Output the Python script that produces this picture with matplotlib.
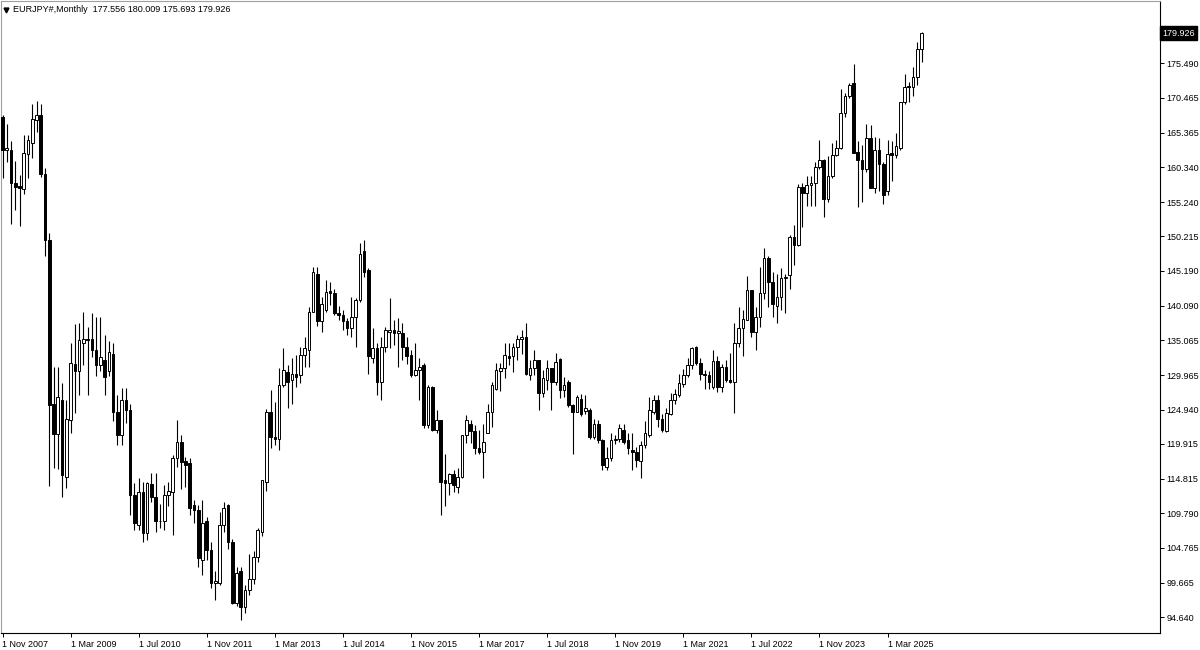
#!/usr/bin/env python3
"""
EURJPY# monthly candlestick chart, MetaTrader style (black on white).
"""

import matplotlib
matplotlib.use("Agg")
import matplotlib.pyplot as plt
import matplotlib.transforms as mtransforms
import numpy as np
import pandas as pd

symbol = "EURJPY#"
timeframe = "Monthly"
first_month = "2007-11-01"

# one value per month, Nov 2007 .. Nov 2025
opens = [
    167.6, 162.8,
    162.9, 158.0, 157.6, 157.1, 162.3, 163.9, 167.2, 167.9, 159.4, 149.7, 125.8, 121.4,
    126.4, 115.1, 123.4, 131.6, 130.5, 134.6, 135.3, 135.3, 133.6, 131.4, 132.2, 130.6,
    133.1, 124.6, 121.2, 126.3, 124.9, 112.5, 108.1, 112.9, 106.9, 114.0, 112.2, 108.6,
    108.6, 112.5, 112.9, 117.8, 120.2, 117.4, 117.1, 111.0, 110.3, 103.0, 108.6, 104.4,
    99.6, 99.6, 108.1, 111.0, 105.6, 96.7, 101.3, 96.1, 98.6, 100.2, 103.4, 107.0,
    114.4, 124.6, 121.0, 120.7, 128.5, 130.4, 129.2, 130.2, 130.0, 132.9, 133.6, 139.2,
    144.8, 137.8, 139.5, 142.2, 141.9, 139.0, 138.7, 137.8, 136.8, 138.5, 141.0, 148.1,
    145.3, 132.4, 133.9, 129.0, 134.1, 136.3, 136.5, 136.1, 136.1, 134.1, 132.9, 130.0,
    130.7, 131.4, 122.7, 128.3, 122.0, 123.4, 114.7, 114.2, 115.5, 113.6, 115.1, 121.2,
    122.9, 121.8, 119.3, 118.8, 121.5, 124.6, 128.0, 130.5, 131.0, 132.8, 132.7, 134.1,
    135.2, 135.6, 130.0, 131.0, 132.2, 127.3, 129.3, 131.0, 129.0, 132.3, 127.8, 129.0,
    125.6, 124.6, 126.5, 124.7, 124.9, 121.0, 122.9, 120.5, 116.6, 117.8, 120.5, 120.7,
    121.9, 120.5, 119.0, 118.8, 117.4, 119.8, 121.2, 124.6, 126.4, 123.6, 121.8, 124.3,
    126.3, 127.1, 128.7, 130.0, 131.4, 134.1, 131.8, 130.2, 130.0, 128.3, 132.1, 128.3,
    131.1, 129.3, 129.0, 134.6, 136.8, 138.0, 142.4, 136.3, 138.5, 141.9, 147.0, 143.6,
    140.0, 141.4, 144.1, 144.6, 150.2, 149.0, 157.5, 156.5, 157.8, 158.0, 160.4, 161.4,
    155.7, 159.0, 162.1, 163.2, 168.2, 170.7, 172.6, 162.5, 161.4, 160.0, 164.6, 157.3,
    162.9, 160.8, 156.8, 162.4, 162.1, 163.2, 169.8, 172.2, 172.1, 173.5, 177.556,
]
highs = [
    168.0, 166.7,
    164.1, 161.2, 159.2, 165.1, 165.0, 169.6, 170.0, 169.6, 160.2, 150.7, 131.2, 131.2,
    128.8, 126.3, 134.7, 137.5, 137.6, 139.2, 137.0, 139.0, 138.5, 138.5, 135.8, 134.9,
    134.7, 127.1, 128.1, 128.1, 125.8, 114.2, 114.9, 114.4, 114.4, 115.7, 115.6, 111.2,
    113.9, 114.4, 118.3, 123.4, 121.2, 118.0, 117.8, 111.7, 111.0, 111.7, 109.3, 105.6,
    101.3, 110.0, 111.5, 111.2, 106.0, 102.0, 102.0, 99.3, 103.9, 104.3, 107.6, 114.7,
    125.0, 127.8, 126.1, 131.0, 133.9, 131.4, 132.5, 132.9, 134.1, 135.6, 139.9, 145.8,
    145.8, 141.4, 143.9, 143.6, 142.6, 140.0, 139.5, 138.3, 141.4, 141.3, 149.2, 149.7,
    145.6, 136.8, 134.6, 135.6, 137.0, 141.2, 138.0, 138.3, 137.6, 135.6, 133.6, 134.6,
    132.4, 131.7, 128.5, 128.4, 124.9, 123.4, 118.5, 115.6, 116.1, 116.4, 121.2, 124.1,
    123.4, 122.7, 122.0, 122.9, 125.8, 129.0, 131.7, 131.7, 134.6, 134.6, 134.6, 135.8,
    136.5, 137.6, 132.2, 133.6, 132.2, 130.7, 132.2, 131.0, 133.2, 132.4, 129.7, 129.3,
    125.8, 127.1, 127.2, 127.1, 125.1, 123.6, 123.4, 120.7, 119.5, 121.5, 121.2, 122.9,
    122.9, 121.5, 121.5, 119.5, 120.3, 123.2, 126.8, 127.1, 127.1, 124.3, 125.1, 127.3,
    128.0, 130.2, 130.9, 132.4, 134.1, 134.2, 132.4, 130.7, 130.6, 133.6, 132.7, 131.6,
    132.2, 133.2, 137.6, 139.9, 139.5, 144.4, 142.4, 139.9, 145.8, 148.5, 147.3, 145.0,
    144.8, 145.6, 144.8, 150.4, 151.9, 157.9, 158.0, 159.0, 159.0, 161.1, 164.3, 161.6,
    161.9, 163.8, 164.3, 171.8, 171.1, 172.6, 175.4, 164.1, 163.6, 166.7, 166.5, 164.8,
    164.6, 161.1, 164.3, 164.1, 165.4, 169.9, 174.0, 172.8, 174.9, 178.6, 180.009,
]
lows = [
    158.7, 161.1,
    152.1, 154.1, 151.7, 156.4, 158.7, 161.7, 165.5, 158.9, 147.3, 113.7, 116.4, 116.3,
    112.2, 113.5, 121.5, 124.4, 127.1, 131.4, 127.1, 132.6, 129.9, 130.5, 127.1, 129.9,
    123.2, 119.8, 119.8, 123.0, 109.5, 107.3, 107.3, 105.6, 105.9, 111.5, 107.1, 107.6,
    107.3, 110.8, 106.6, 116.6, 113.4, 113.6, 109.5, 108.3, 102.0, 100.8, 103.0, 98.9,
    97.1, 99.3, 107.1, 104.6, 96.5, 96.2, 94.2, 95.2, 97.9, 99.4, 102.7, 106.4,
    113.0, 119.3, 119.8, 119.0, 128.3, 125.1, 125.8, 128.3, 128.8, 131.2, 131.2, 139.2,
    137.2, 136.3, 139.2, 140.2, 138.7, 138.0, 136.5, 135.8, 135.6, 134.1, 140.7, 144.3,
    130.2, 131.7, 127.1, 126.3, 133.4, 133.9, 134.4, 131.2, 132.2, 131.6, 129.7, 129.8,
    126.3, 122.3, 122.3, 121.8, 121.5, 109.5, 110.8, 112.5, 112.9, 112.7, 114.9, 120.0,
    120.0, 118.5, 118.5, 114.9, 121.5, 122.4, 127.8, 127.6, 129.5, 131.4, 130.4, 132.2,
    133.1, 130.0, 129.3, 130.0, 124.9, 126.8, 127.8, 124.9, 128.5, 126.6, 126.8, 125.3,
    118.5, 124.6, 124.0, 124.3, 120.7, 120.6, 120.0, 116.1, 116.1, 117.4, 119.9, 120.2,
    119.9, 118.5, 116.1, 116.6, 114.9, 119.3, 121.0, 124.3, 122.4, 121.6, 121.6, 124.1,
    125.8, 126.8, 128.3, 129.7, 130.8, 131.4, 129.3, 128.0, 128.0, 128.0, 127.5, 127.5,
    129.0, 128.8, 124.4, 134.1, 132.7, 138.0, 135.6, 133.6, 137.0, 141.1, 139.9, 138.5,
    137.6, 139.5, 139.0, 142.6, 146.1, 148.8, 151.6, 154.6, 154.6, 154.6, 160.0, 153.1,
    155.3, 158.7, 161.9, 163.0, 167.7, 170.4, 162.4, 154.5, 155.3, 159.7, 157.3, 156.5,
    156.8, 155.0, 156.3, 158.3, 161.7, 162.9, 169.6, 169.9, 170.8, 172.3, 175.693,
]
closes = [
    162.8, 163.1,
    158.0, 157.5, 157.3, 162.4, 164.3, 167.3, 167.9, 159.4, 149.7, 125.6, 121.4, 126.8,
    115.4, 123.6, 131.7, 130.5, 135.1, 135.3, 135.1, 133.6, 131.4, 132.6, 129.7, 133.4,
    124.6, 121.2, 126.4, 124.9, 112.5, 108.3, 112.9, 106.9, 114.2, 112.2, 108.6, 108.7,
    112.5, 113.0, 117.8, 120.2, 117.3, 116.8, 110.5, 110.3, 103.2, 108.3, 104.4, 99.6,
    99.9, 108.1, 110.5, 105.6, 96.7, 101.1, 96.1, 98.6, 100.2, 103.4, 107.3, 114.6,
    124.6, 121.0, 120.7, 128.5, 130.7, 129.0, 130.2, 129.7, 132.9, 133.9, 139.2, 145.1,
    137.8, 140.4, 142.1, 141.9, 139.0, 138.7, 137.8, 136.8, 138.5, 141.0, 147.7, 145.1,
    132.7, 133.9, 129.0, 134.1, 136.5, 136.6, 136.1, 136.4, 134.1, 132.7, 130.0, 130.7,
    131.2, 122.7, 128.3, 122.0, 123.4, 114.4, 114.2, 115.5, 113.9, 115.1, 121.2, 123.4,
    121.8, 119.3, 118.8, 120.2, 124.6, 128.5, 130.7, 131.0, 132.9, 132.5, 134.1, 135.2,
    135.6, 130.1, 131.0, 132.2, 127.3, 129.5, 131.0, 129.0, 131.9, 127.8, 128.5, 125.6,
    124.6, 126.8, 124.3, 125.1, 121.0, 122.9, 120.5, 116.8, 117.8, 120.5, 120.6, 122.2,
    120.2, 119.3, 118.8, 117.6, 119.8, 121.5, 124.9, 126.4, 123.6, 121.9, 124.5, 126.3,
    127.2, 128.8, 130.0, 131.4, 134.0, 131.7, 130.2, 130.0, 129.0, 132.1, 128.3, 131.1,
    129.3, 129.0, 134.6, 136.8, 138.2, 142.4, 136.3, 138.5, 141.9, 147.0, 143.6, 140.4,
    141.4, 144.1, 144.3, 150.2, 149.0, 157.5, 156.5, 157.8, 158.0, 160.4, 161.4, 155.7,
    159.0, 162.1, 163.2, 168.2, 170.7, 172.4, 162.4, 161.4, 160.0, 164.6, 157.3, 162.9,
    160.8, 156.3, 162.3, 162.1, 163.5, 169.8, 172.1, 172.0, 173.5, 177.6, 179.926,
]

price_ticks = [94.640, 99.665, 104.765, 109.790, 114.815, 119.915, 124.940, 129.965,
               135.065, 140.090, 145.190, 150.215, 155.240, 160.340, 165.365, 170.465,
               175.490, 180.515]
date_ticks = ["1 Nov 2007", "1 Mar 2009", "1 Jul 2010", "1 Nov 2011", "1 Mar 2013",
              "1 Jul 2014", "1 Nov 2015", "1 Mar 2017", "1 Jul 2018", "1 Nov 2019",
              "1 Mar 2021", "1 Jul 2022", "1 Nov 2023", "1 Mar 2025"]


def main():
    o = np.array(opens)
    h = np.array(highs)
    l = np.array(lows)
    c = np.array(closes)
    months = pd.date_range(first_month, periods=len(c), freq="MS")
    x = np.arange(len(c))

    W, H = 1200, 650
    fig = plt.figure(figsize=(W / 100, H / 100), dpi=100)
    fig.patch.set_facecolor("white")
    # chart area in pixels: left 1, right 1160, top 1, bottom 633
    ax = fig.add_axes([1 / W, (H - 633) / H, 1159 / W, 632 / H])
    ax.set_facecolor("white")

    px_per_bar = 4.255
    ax.set_xlim(-1.5 / px_per_bar, 1157.5 / px_per_bar)
    px_per_unit = 6.847
    ax.set_ylim(94.64 - 16 / px_per_unit, 94.64 + 616 / px_per_unit)

    # wicks
    ax.vlines(x, l, h, color="black", linewidth=0.8, zorder=2)

    # bodies
    up = c >= o
    bottom = np.minimum(o, c)
    height = np.maximum(np.abs(c - o), 0.06)
    body_w = 0.62
    ax.bar(x[up], height[up], bottom=bottom[up], width=body_w,
           facecolor="white", edgecolor="black", linewidth=0.7, zorder=3)
    ax.bar(x[~up], height[~up], bottom=bottom[~up], width=body_w,
           facecolor="black", edgecolor="black", linewidth=0.7, zorder=3)

    # price axis on the right
    ax.yaxis.tick_right()
    ax.set_yticks(price_ticks)
    ax.set_yticklabels([f"{v:.3f}" for v in price_ticks],
                       fontsize=6.5, family="Liberation Sans")
    ax.tick_params(axis="y", direction="out", length=3, width=0.7, pad=1.5,
                   colors="black")

    # time axis
    label_months = [pd.to_datetime(s, format="%d %b %Y") for s in date_ticks]
    tick_pos = [int(np.where(months == m)[0][0]) for m in label_months]
    ax.set_xticks(tick_pos)
    ax.set_xticklabels(date_ticks, fontsize=6.5, family="Liberation Sans",
                       ha="left")
    ax.tick_params(axis="x", direction="out", length=3, width=0.7, pad=2,
                   colors="black")

    for side in ["top", "bottom", "left", "right"]:
        ax.spines[side].set_color("black")
        ax.spines[side].set_linewidth(0.8)
    ax.spines["left"].set_color("#a0a0a0")
    ax.spines["top"].set_color("#a0a0a0")

    # current price label (sits over the top tick label, as in the terminal)
    trans = mtransforms.blended_transform_factory(ax.transAxes, ax.transData)
    ax.text(1.002, c[-1], f"{c[-1]:.3f}", transform=trans, ha="left",
            va="center", fontsize=6.5, family="Liberation Sans", color="white",
            bbox=dict(facecolor="black", edgecolor="black", pad=1.7),
            zorder=10, clip_on=False)

    # header
    ax.plot([0.0045], [0.9865], marker="v", markersize=3.5, color="black",
            transform=ax.transAxes, clip_on=False)
    header = (f"{symbol},{timeframe}  {o[-1]:.3f} {h[-1]:.3f} "
              f"{l[-1]:.3f} {c[-1]:.3f}")
    ax.text(0.0105, 0.9935, header, transform=ax.transAxes, ha="left",
            va="top", fontsize=6.5, family="Liberation Sans", color="black")

    fig.savefig("out.png", dpi=100, facecolor="white")


if __name__ == "__main__":
    main()
